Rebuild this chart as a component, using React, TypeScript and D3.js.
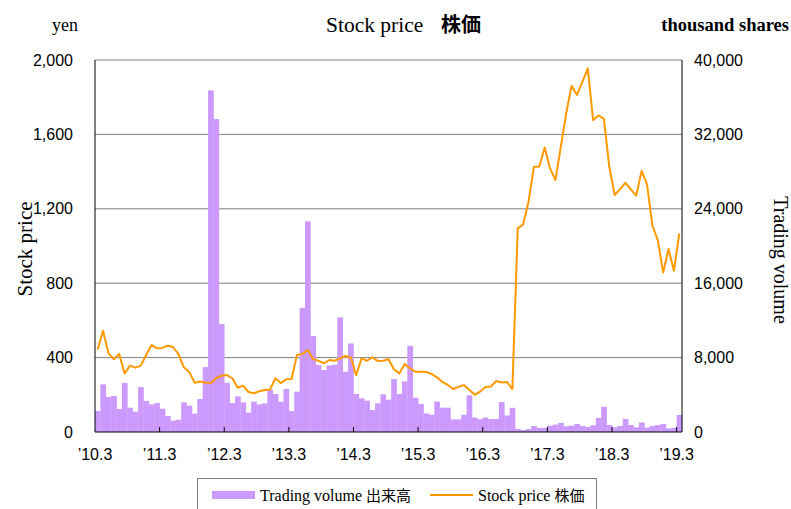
import React from 'react';
import * as d3 from 'd3';

// monthly data, '10.3 .. '19.3 (109 months)
const months: string[] = d3.range(109).map(i => {
  const m = (i + 2) % 12 + 1;
  const y = 10 + Math.floor((i + 2) / 12);
  return `${y}.${m}`;
});

// trading volume, thousand shares
const volume: number[] = [
  2250, 5120, 3760, 3870, 2470, 5260, 2610, 2180, 4830, 3330, 2970, 3110,
  2500, 1720, 1220, 1320, 3190, 2830, 1970, 3540, 6980, 36730, 33650, 11600,
  5300, 3110, 3830, 3190, 2080, 3260, 2970, 3080, 4550, 4080, 3260, 4620,
  2250, 4330, 13350, 22660, 10310, 7200, 6660, 7160, 7230, 12320, 6480, 9520,
  4080, 3620, 3370, 2360, 3080, 4050, 3470, 5690, 4080, 5440, 9270, 3690,
  3010, 2000, 1860, 3260, 2610, 2610, 1360, 1360, 1850, 3940, 1560, 1380,
  1560, 1400, 1400, 3220, 1770, 2600, 320, 210, 320, 640, 430, 430,
  680, 790, 970, 610, 680, 860, 640, 540, 720, 1520, 2720, 750,
  500, 640, 1400, 750, 500, 1020, 470, 640, 740, 860, 390, 430,
  1830,
];

// stock price, yen
const price: number[] = [
  444, 545, 423, 391, 419, 315, 357, 346, 357, 414, 468, 450,
  452, 464, 457, 419, 348, 323, 265, 271, 265, 262, 289, 303,
  306, 289, 238, 249, 215, 208, 219, 226, 228, 289, 263, 283,
  285, 414, 419, 441, 392, 383, 369, 387, 383, 396, 409, 401,
  306, 396, 383, 401, 382, 383, 392, 337, 315, 366, 342, 324,
  324, 323, 312, 294, 269, 253, 231, 243, 252, 227, 200, 217,
  242, 244, 274, 266, 269, 231, 1095, 1116, 1238, 1426, 1426, 1530,
  1417, 1355, 1534, 1713, 1862, 1812, 1883, 1955, 1677, 1702, 1684, 1426,
  1274, 1306, 1340, 1305, 1271, 1404, 1333, 1109, 1032, 858, 984, 867,
  1068,
];

const xTickLabels = ['’10.3', '’11.3', '’12.3', '’13.3', '’14.3', '’15.3', '’16.3', '’17.3', '’18.3', '’19.3'];
const priceTicks = [0, 400, 800, 1200, 1600, 2000];
const volumeTicks = [0, 8000, 16000, 24000, 32000, 40000];

const W = 791, H = 509;
const left = 95, right = 682, top = 60, bottom = 432;

export default function App() {
  const x = d3.scaleBand<string>().domain(months).range([left, right]).padding(0);
  const yL = d3.scaleLinear().domain([0, 2000]).range([bottom, top]);
  const yR = d3.scaleLinear().domain([0, 40000]).range([bottom, top]);
  const fmt = d3.format(',');

  const line = d3.line<number>()
    .x((_, i) => (x(months[i]) as number) + x.bandwidth() / 2)
    .y(d => yL(d));

  const serif = '"Liberation Serif", "Times New Roman", serif';
  const sans = '"Liberation Sans", Arial, sans-serif';
  const cjk = '"Noto Sans CJK JP", sans-serif';

  return (
    <svg width={W} height={H} style={{ position: 'absolute', left: 0, top: 0, background: '#fff' }}>
      {/* gridlines */}
      {priceTicks.filter(t => t > 0).map(t => (
        <line key={t} x1={left} x2={right} y1={yL(t)} y2={yL(t)} stroke="#808080" strokeWidth={1} />
      ))}

      {/* volume bars */}
      {volume.map((v, i) => (
        <rect key={i} x={x(months[i])} y={yR(v)} width={x.bandwidth() + 0.3} height={bottom - yR(v)} fill="#CC99FF" />
      ))}

      {/* price line */}
      <path d={line(price) || ''} fill="none" stroke="#FF9900" strokeWidth={2} strokeLinejoin="round" />

      {/* axes frame */}
      <line x1={left} x2={left} y1={top} y2={bottom} stroke="#000" />
      <line x1={right} x2={right} y1={top} y2={bottom} stroke="#000" />
      <line x1={left} x2={right} y1={bottom} y2={bottom} stroke="#000" />

      {/* x ticks + labels */}
      {xTickLabels.map((lab, k) => {
        const xi = x(months[k * 12]) as number;
        return (
          <g key={lab}>
            {k > 0 && <line x1={xi} x2={xi} y1={bottom} y2={bottom - 5} stroke="#000" />}
            <text x={xi} y={460} textAnchor="middle" fontFamily={sans} fontSize={16}>{lab}</text>
          </g>
        );
      })}

      {/* left axis labels */}
      {priceTicks.map(t => (
        <text key={t} x={73} y={yL(t) + 5.5} textAnchor="end" fontFamily={sans} fontSize={16}>{fmt(t)}</text>
      ))}

      {/* right axis labels */}
      {volumeTicks.map(t => (
        <text key={t} x={694} y={yR(t) + 5.5} textAnchor="start" fontFamily={sans} fontSize={16}>{fmt(t)}</text>
      ))}

      {/* titles */}
      <text x={52} y={31} fontFamily={serif} fontSize={18}>yen</text>
      <text x={326} y={32} fontFamily={serif} fontSize={21.5}>Stock price</text>
      <text x={441} y={32} fontFamily={cjk} fontWeight="bold" fontSize={20}>株価</text>
      <text x={789} y={31} textAnchor="end" fontFamily={serif} fontSize={18.5} fontWeight="bold">thousand shares</text>

      <text transform={`translate(32,249) rotate(-90)`} textAnchor="middle" fontFamily={serif} fontSize={21}>Stock price</text>
      <text transform={`translate(774,260) rotate(90)`} textAnchor="middle" fontFamily={serif} fontSize={20}>Trading volume</text>

      {/* legend */}
      <rect x={197.5} y={478.5} width={399} height={40} fill="#fff" stroke="#808080" />
      <rect x={212} y={491} width={43} height={8} fill="#CC99FF" />
      <text x={260} y={501} fontFamily={serif} fontSize={16}>
        Trading volume <tspan fontFamily={cjk} fontSize={15}>出来高</tspan>
      </text>
      <line x1={430} x2={473} y1={495} y2={495} stroke="#FF9900" strokeWidth={2} />
      <text x={478} y={501} fontFamily={serif} fontSize={16}>
        Stock price <tspan fontFamily={cjk} fontSize={15}>株価</tspan>
      </text>
    </svg>
  );
}
